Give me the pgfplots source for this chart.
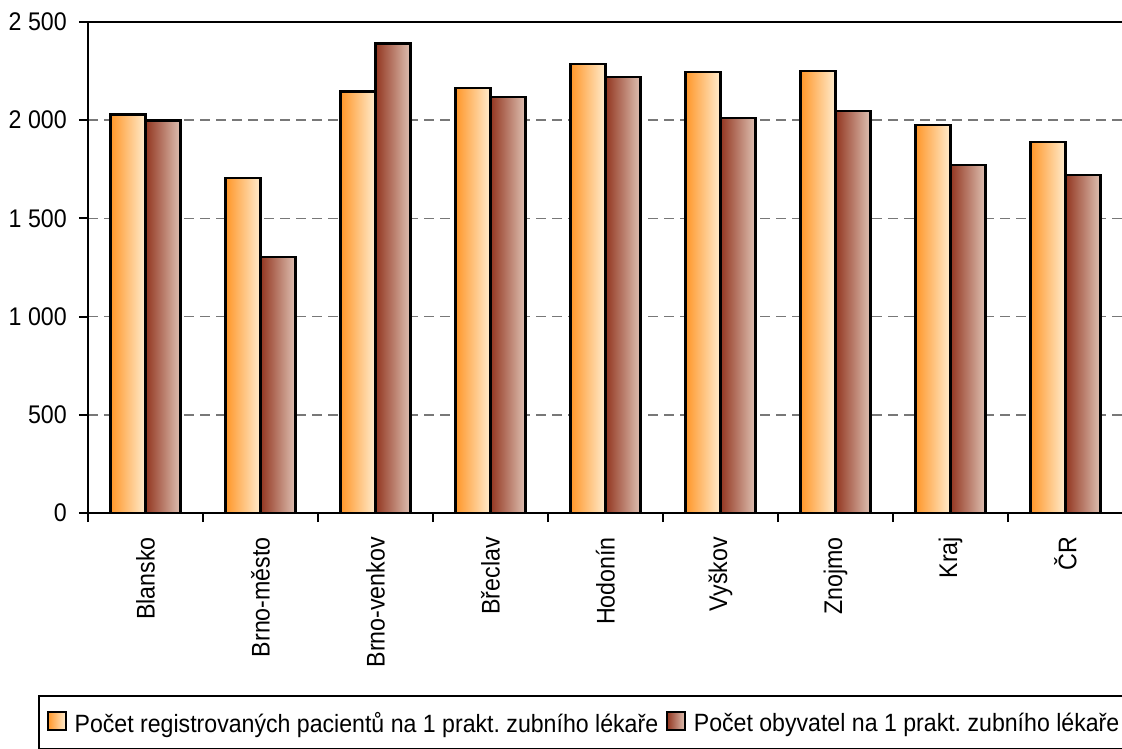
\documentclass[border=0pt]{standalone}
\usepackage{fontspec}
\setmainfont{Liberation Sans}[FakeStretch=0.91]
\newfontfamily\legfont{Liberation Sans}[FakeStretch=0.925]
\usepackage{pgfplots}
\pgfplotsset{compat=1.18}
\frenchspacing

\definecolor{orA}{RGB}{255,150,40}
\definecolor{orB}{RGB}{255,236,206}
\definecolor{brA}{RGB}{146,54,32}
\definecolor{brB}{RGB}{222,192,178}
\definecolor{gridgray}{RGB}{120,120,120}

% each bar is its own plot so that the gradient runs across one bar
\pgfplotsset{
  sqlegend/.style={legend image code/.code={
      \draw[##1, line width=1.6bp] (0bp,-7bp) rectangle (18bp,11bp);}},
  obar/.style={ybar, bar width=35bp, bar shift=-17.5bp, draw=black,
      line width=2.6bp, left color=orA, right color=orB, sqlegend},
  bbar/.style={ybar, bar width=35bp, bar shift=17.5bp, draw=black,
      line width=2.6bp, left color=brA, right color=brB, sqlegend},
}
\newcommand\ob[2]{\addplot[obar, forget plot] coordinates {(#1,#2)};}
\newcommand\bb[2]{\addplot[bbar, forget plot] coordinates {(#1,#2)};}

\begin{document}
\begin{tikzpicture}
\path[use as bounding box] (-88bp,-236bp) rectangle (1034bp,513bp);
\begin{axis}[
  scale only axis,
  width=1035bp, height=491bp,
  ymin=0, ymax=2500,
  xmin=-0.5, xmax=8.5,
  enlargelimits=false,
  axis x line=bottom, axis y line=left,
  axis line style={-, line width=2.6bp, black},
  ytick={0,500,...,2500},
  xtick={0,...,8},
  xticklabels={Blansko,Brno-město,Brno-venkov,Břeclav,Hodonín,Vyškov,Znojmo,Kraj,ČR},
  minor xtick={-0.5,0.5,...,8.5},
  tick align=outside,
  major x tick style={draw=none},
  major tick length=9bp, minor tick length=9bp,
  every tick/.style={black, line width=2bp},
  ymajorgrids,
  grid style={gridgray, line width=1.4bp, dash pattern=on 10bp off 6bp},
  /pgf/number format/assume math mode=true,
  /pgf/number format/1000 sep={\ },
  tick label style={font=\fontsize{25.5bp}{30bp}\selectfont},
  xticklabel style={yshift=-15bp, rotate=90, anchor=east, inner sep=0pt},
  yticklabel style={inner sep=0pt, xshift=-12bp},
  legend columns=2,
  legend style={
    at={(axis description cs:-0.0483,-0.3707)}, anchor=north west,
    draw=black, line width=2bp,
    inner xsep=8bp, inner ysep=15bp,
    font=\legfont\fontsize{25bp}{30bp}\selectfont,
    nodes={inner sep=0pt},
    /tikz/column sep=8bp,
  },
]
\addplot[obar] coordinates {(0,2030)};
\addlegendentry{Počet registrovaných pacientů na 1 prakt. zubního lékaře}
\addplot[bbar] coordinates {(0,1999)};
\addlegendentry{Počet obyvatel na 1 prakt. zubního lékaře}
\ob{1}{1706} \ob{2}{2145} \ob{3}{2164} \ob{4}{2286}
\ob{5}{2245} \ob{6}{2250} \ob{7}{1975} \ob{8}{1889}
\bb{1}{1303} \bb{2}{2392} \bb{3}{2118} \bb{4}{2220}
\bb{5}{2011} \bb{6}{2047} \bb{7}{1772} \bb{8}{1721}
\draw[line width=2.6bp, black] (rel axis cs:0,1) -- (rel axis cs:1,1);
\end{axis}
\end{tikzpicture}
\end{document}
